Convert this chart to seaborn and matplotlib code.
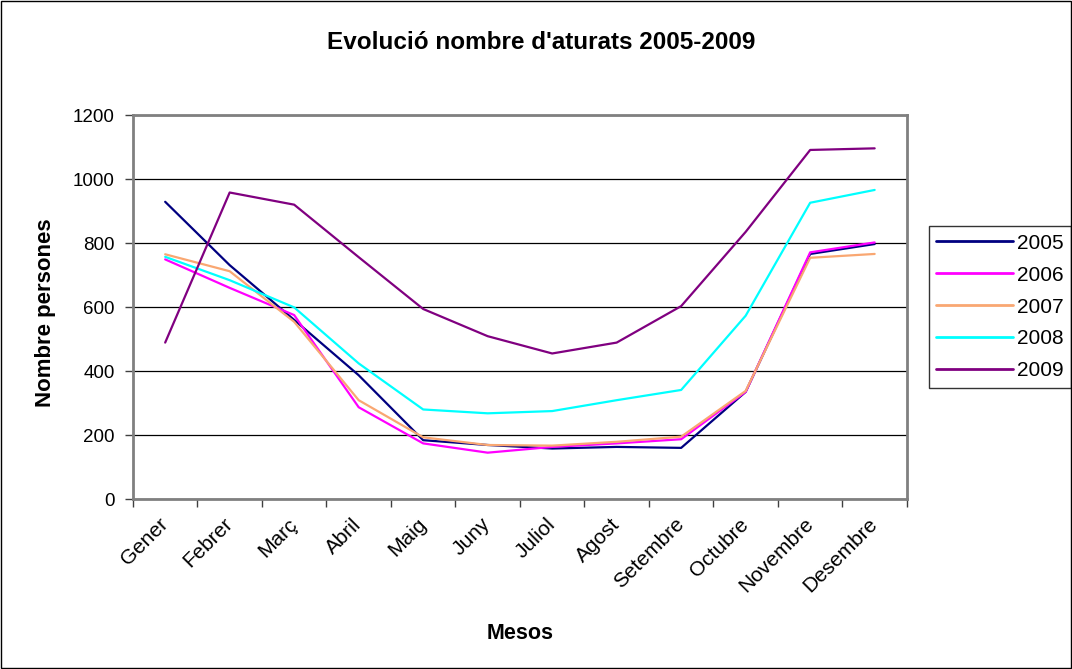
import numpy as np
import pandas as pd
import matplotlib
matplotlib.use('Agg')
import matplotlib.pyplot as plt
import matplotlib.transforms as mtransforms
import seaborn as sns

# Data
mesos = ['Gener', 'Febrer', 'Març', 'Abril', 'Maig', 'Juny', 'Juliol',
         'Agost', 'Setembre', 'Octubre', 'Novembre', 'Desembre']
y2005 = [929, 731, 560, 387, 184, 169, 158, 163, 160, 335, 766, 797]
y2006 = [749, 660, 575, 287, 174, 145, 163, 174, 187, 335, 771, 802]
y2007 = [765, 712, 554, 309, 193, 169, 167, 179, 195, 338, 754, 766]
y2008 = [757, 684, 599, 424, 280, 268, 275, 309, 341, 573, 926, 966]
y2009 = [489, 958, 920, 756, 594, 509, 455, 489, 603, 835, 1091, 1096]

anys = ['2005', '2006', '2007', '2008', '2009']
colors = ['#000080', '#FF00FF', '#F9A772', '#00FFFF', '#800080']

df = pd.DataFrame({'Mes': mesos * 5,
                   'Any': np.repeat(anys, 12),
                   'Valor': y2005 + y2006 + y2007 + y2008 + y2009})

sns.set_style('white')
plt.rcParams['font.family'] = ['Liberation Sans', 'DejaVu Sans']
plt.rcParams['text.color'] = 'black'
plt.rcParams['axes.labelcolor'] = 'black'
plt.rcParams['xtick.color'] = 'black'
plt.rcParams['ytick.color'] = 'black'

fig = plt.figure(figsize=(10.72, 6.69), dpi=100)
ax = fig.add_axes([0.124, 0.254, 0.722, 0.574])

sns.lineplot(data=df, x='Mes', y='Valor', hue='Any', palette=colors,
             linewidth=1.6, ax=ax, sort=False)

ax.set_xlim(-0.5, 11.5)
ax.set_ylim(0, 1200)
ax.set_yticks(range(0, 1201, 200))
ax.yaxis.grid(True, color='black', linewidth=0.9)
ax.set_axisbelow(True)

ax.set_xticks(range(12))
ax.set_xticklabels(mesos, rotation=45, ha='right', va='center',
                   rotation_mode='anchor', fontsize=15)
shift = mtransforms.ScaledTranslation(-6 / 100, 0, fig.dpi_scale_trans)
for lab in ax.get_xticklabels():
    lab.set_transform(lab.get_transform() + shift)
ax.set_xticks(np.arange(-0.5, 12, 1), minor=True)
ax.tick_params(axis='x', which='major', length=0, pad=16)
ax.tick_params(axis='x', which='minor', length=6, width=1, color='#404040', bottom=True)
ax.tick_params(axis='y', length=6, width=1, color='#404040', left=True,
               labelsize=13.5, pad=7, labelcolor='black')

for s in ax.spines.values():
    s.set_color('#808080')
    s.set_linewidth(2)

ax.set_xlabel('Mesos', fontsize=15.5, fontweight='bold')
ax.set_ylabel('Nombre persones', fontsize=16, fontweight='bold')
ax.xaxis.set_label_coords(0.5, -0.323)
ax.yaxis.set_label_coords(-0.100, 0.485)
fig.text(0.505, 0.937, "Evolució nombre d'aturats 2005-2009", ha='center', va='center',
         fontsize=17.5, fontweight='bold')

leg = ax.legend(loc='center left', bbox_to_anchor=(1.028, 0.5), frameon=True,
                fancybox=False, edgecolor='black', fontsize=15, handlelength=3.7,
                labelspacing=0.62, borderpad=0.35, borderaxespad=0,
                handletextpad=0.2, title=None)
leg.get_frame().set_linewidth(1)
for line in leg.get_lines():
    line.set_linewidth(2)

# outer frame of the chart
fig.patches.append(plt.Rectangle((0.001, 0.001), 0.998, 0.997, transform=fig.transFigure,
                                 fill=False, edgecolor='black', linewidth=1))

fig.savefig('out.png', dpi=100)
